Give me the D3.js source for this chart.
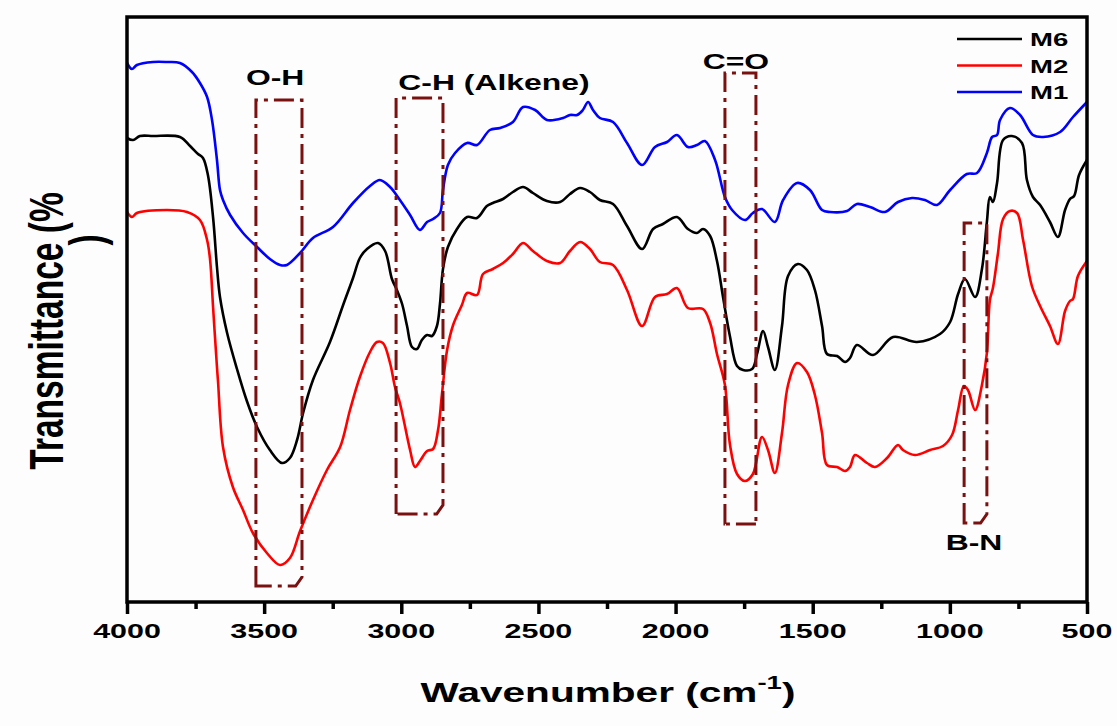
<!DOCTYPE html>
<html>
<head>
<meta charset="utf-8">
<script src="https://cdn.jsdelivr.net/npm/d3@7"></script>
<style>
body { margin: 0; background: #fdfdfd; }
text { font-family: Arial, "Liberation Sans", sans-serif; font-weight: bold; fill: #000; }
</style>
</head>
<body>
<div id="ftir"></div>
<script>
"use strict";

// FTIR spectra, transmittance in arbitrary units

const wnM6 = [4000,3978,3953,3905,3807,3770,3741,3723,3705,3686,3672,3661,3635,3599,3563,3526,3479,3435,3406,3380,3358,3322,3260,3212,3176,3151,3125,3085,3059,3034,3016,2997,2979,2961,2943,2925,2906,2888,2870,2859,2848,2830,2797,2760,2724,2688,2666,2629,2593,2556,2520,2469,2421,2385,2348,2312,2276,2228,2177,2122,2082,2046,1995,1955,1922,1900,1874,1849,1827,1802,1776,1754,1721,1703,1681,1663,1638,1612,1590,1554,1521,1492,1466,1448,1411,1382,1364,1339,1280,1207,1120,1036,999,970,945,908,883,865,854,843,828,806,774,737,719,697,671,635,606,580,562,547,529,500];
const tM6 = [92.8,92.4,93.2,93.2,93,91.2,89.6,88.8,85.4,76.8,67,61,53.8,46.6,40.2,35,30.4,27.8,28.8,32.4,37.8,44.4,52,59.4,64.8,68.8,70.6,71.8,70.2,64.6,62.4,59.6,55.2,51,50.6,52.4,53.4,53.2,55.2,59.6,66.6,71,74.6,77,76.8,79.2,79.8,80.6,82,83,81.8,80.2,80,81.6,82.8,82,80.4,79.6,75.2,70.6,74.6,75.6,77,74.6,73.8,74.6,73.2,68.2,61,53.2,47.2,46.4,46.6,49.6,54.2,51,46.4,55.2,65.2,67.6,66.4,62.4,55.2,49.6,49.2,48,48.8,51.4,49.4,53,52,53.6,56,61.6,64.6,61,66.6,76,81,80,83.8,92.4,93.2,91.8,84.4,81,79.4,76,73,78.4,80.6,81.2,85.4,88.4];

const wnM2 = [4000,3982,3964,3854,3781,3734,3708,3697,3686,3672,3668,3650,3614,3577,3541,3490,3442,3406,3369,3322,3271,3223,3187,3151,3114,3089,3067,3041,3023,3005,2968,2950,2932,2906,2884,2866,2852,2833,2811,2779,2760,2724,2702,2666,2629,2593,2556,2520,2469,2421,2385,2348,2312,2276,2228,2177,2122,2075,2031,1995,1955,1900,1874,1849,1820,1802,1776,1747,1718,1685,1663,1638,1612,1590,1557,1521,1492,1466,1448,1411,1382,1364,1346,1302,1273,1229,1189,1171,1127,1072,1025,992,970,949,934,908,883,865,854,843,825,806,781,755,733,701,671,635,606,580,562,551,533,500];
const tM2 = [78,77,77.8,78.4,78,76.4,72.4,68.4,58.8,47,44,31,23,18.4,13.8,9.8,7.4,8.8,14.2,20.4,26.4,31,38.4,45,50,52,51.8,47.8,43,39.8,30.4,27,28.2,30.2,30.6,34.4,41.4,50.4,55.4,59.4,61.8,61.4,65.6,66.6,67.8,69.6,71.8,70.2,68.2,67.8,70.2,72,70.6,68,67.4,62.4,55.2,61,61.6,62.8,58.8,58.6,55.8,49.6,43.4,31.6,25.6,24.2,25.6,33,30.4,25.8,33.8,43.4,47.8,46,41.4,33.8,27.4,27,26.2,27,29.4,27.8,27,28.8,31.4,30.4,29.4,30.4,31.2,33.4,38.4,43.2,42.4,38.4,43.4,49.8,60.4,62.8,69.6,76.6,78.2,77.8,72.4,63.2,59.2,55.2,51.6,58.2,60.2,60.6,65.2,68.2];

const wnM1 = [4000,3982,3964,3905,3854,3807,3763,3734,3708,3690,3672,3661,3650,3624,3577,3526,3479,3442,3417,3369,3322,3249,3176,3114,3078,3041,3005,2968,2932,2906,2884,2859,2848,2830,2804,2760,2724,2677,2640,2593,2556,2512,2469,2410,2385,2359,2338,2319,2301,2276,2228,2177,2122,2075,2031,1995,1955,1922,1893,1856,1820,1794,1747,1718,1685,1638,1608,1557,1510,1466,1437,1375,1339,1291,1237,1189,1138,1091,1047,999,938,901,865,846,828,817,781,744,697,660,598,551,500];
const tM1 = [107.8,106.6,107.4,108,108,107.8,106,103.8,101,96.4,88.4,82.4,80.4,77.4,73.8,71,68.6,67.4,67.4,69.8,72.8,75,79.8,83.2,84.4,83,80.4,77.4,74.4,76,76.6,77.8,82.4,87.4,89.8,91.8,91.4,94.4,94.8,96,99,98.4,96.4,96.8,97.4,97.4,98.4,100,98.4,96.8,96,91.8,87.4,91,92,93.4,91,91.4,92.2,88.4,81,78.4,76.4,77.8,78.6,76,80.4,83.8,82.4,78.4,78,78.2,79.6,79,78,80,80.8,80.4,79.4,82.4,85.6,85.8,89.8,93,93.4,96.4,98.8,97.4,93.4,93,94,97,100];

const seriesNames = ["M6", "M2", "M1"];
const seriesColors = ["#000000", "#ff0000", "#0000ff"];

const majorTicks = [4000, 3500, 3000, 2500, 2000, 1500, 1000, 500];
const minorTicks = [3750, 3250, 2750, 2250, 1750, 1250, 750];

// marked absorption bands
const bandLabels = ["O-H", "C-H (Alkene)", "C=O", "B-N"];
const bandFrom = [3530, 3019, 1820, 948];
const bandTo = [3362, 2848, 1707, 865];
const bandTop = [100.4, 100.8, 105.8, 75.8];
const bandBottom = [3.2, 17.6, 15.6, 15.8];
const bandLabelWn = [3460, 2662, 1780, 912];
const bandLabelT = [103.4, 102.4, 106.6, 10.4];


function ftirChart(id) {

    const width = 1117;
    const height = 726;
    const margin = ({top: 17, right: 30, bottom: 124, left: 127});
    const sx = 1.45;   // the figure is stretched horizontally

    const x = d3.scaleLinear()
        .domain([4000, 500])
        .range([margin.left, width - margin.right]);

    const y = d3.scaleLinear()
        .domain([0, 117])
        .range([height - margin.bottom, margin.top]);

    const svg = d3.select("#" + id).append("svg")
        .attr("width", width)
        .attr("height", height);

    svg.append("rect")
        .attr("width", width)
        .attr("height", height)
        .attr("fill", "#fdfdfd");

    function stretched(g, px, py, str, size, anchor) {
        return g.append("text")
            .attr("transform", `translate(${px},${py}) scale(${sx},1)`)
            .attr("text-anchor", anchor || "middle")
            .style("font-size", size + "px")
            .text(str);
    }

    // spectra
    const line = d3.line()
        .x(d => x(d[0]))
        .y(d => y(d[1]))
        .curve(d3.curveCatmullRom.alpha(0.5));

    const series = [d3.zip(wnM6, tM6), d3.zip(wnM2, tM2), d3.zip(wnM1, tM1)];

    svg.append("g")
        .attr("fill", "none")
        .attr("stroke-width", 2.6)
        .attr("stroke-linejoin", "round")
    .selectAll("path")
    .data(series)
    .join("path")
        .attr("stroke", (d, i) => seriesColors[i])
        .attr("d", line);

    // band boxes
    const boxes = svg.append("g")
        .attr("fill", "none")
        .attr("stroke", "#7a1010")
        .attr("stroke-width", 3)
        .attr("stroke-dasharray", "20,6,4,6");

    bandLabels.forEach((lab, i) => {
        const x0 = x(bandFrom[i]), x1 = x(bandTo[i]);
        const y0 = y(bandTop[i]), y1 = y(bandBottom[i]);
        const b = (i === 2) ? 0 : 9;
        boxes.append("path")
            .attr("d", `M${x0},${y1}L${x0},${y0}L${x1},${y0}L${x1},${y1 - b}L${x1 - b * 0.7},${y1}Z`);
        stretched(svg, x(bandLabelWn[i]), y(bandLabelT[i]), lab, 22);
    });

    // frame
    svg.append("rect")
        .attr("x", x(4000))
        .attr("y", y(117))
        .attr("width", x(500) - x(4000))
        .attr("height", y(0) - y(117))
        .attr("fill", "none")
        .attr("stroke", "#000")
        .attr("stroke-width", 3.5);

    // bottom ticks
    const xAxis = g => g
        .attr("transform", `translate(0,${y(0)})`)
        .call(d3.axisBottom(x).tickValues(majorTicks).tickSize(12).tickFormat(""))
        .call(g => g.select(".domain").remove())
        .call(g => g.selectAll(".tick line").attr("stroke-width", 3.5));

    const xMinor = g => g
        .attr("transform", `translate(0,${y(0)})`)
        .call(d3.axisBottom(x).tickValues(minorTicks).tickSize(7).tickFormat(""))
        .call(g => g.select(".domain").remove())
        .call(g => g.selectAll(".tick line").attr("stroke-width", 3.5));

    svg.append("g").call(xAxis);
    svg.append("g").call(xMinor);

    majorTicks.forEach(v => stretched(svg, x(v), 638, String(v), 21));

    // axis titles
    const xt = stretched(svg, (x(4000) + x(500)) / 2 + 1, 702, "Wavenumber (cm", 28);
    xt.append("tspan")
        .attr("dy", -13)
        .style("font-size", "19px")
        .text("-1");
    xt.append("tspan")
        .attr("dy", 13)
        .text(")");

    svg.append("text")
        .attr("transform", `translate(63,331) rotate(-90) scale(1,${sx})`)
        .attr("text-anchor", "middle")
        .style("font-size", "33.5px")
        .text("Transmittance (%");

    svg.append("text")
        .attr("transform", `translate(103,240) rotate(-90) scale(1,${sx})`)
        .attr("text-anchor", "middle")
        .style("font-size", "33.5px")
        .text(")");

    // legend
    const legend = svg.append("g");
    seriesNames.forEach((name, i) => {
        const ly = 39 + i * 26.5;
        legend.append("line")
            .attr("x1", 957)
            .attr("x2", 1022)
            .attr("y1", ly)
            .attr("y2", ly)
            .attr("stroke", seriesColors[i])
            .attr("stroke-width", 2.6);
        stretched(legend, 1030, ly + 7, name, 19, "start");
    });
}

ftirChart("ftir");
</script>
</body>
</html>
